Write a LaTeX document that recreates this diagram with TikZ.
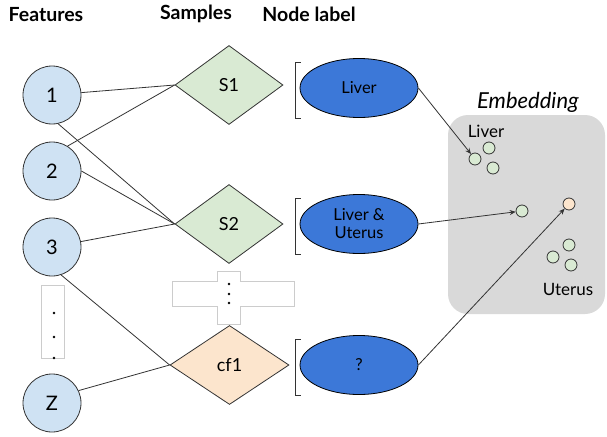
\documentclass[tikz,border=0pt]{standalone}
\usepackage{fontspec}
\setmainfont{Lato}
\usetikzlibrary{shapes.geometric,arrows.meta,calc}

\definecolor{featblue}{HTML}{CFE2F3}
\definecolor{samplegreen}{HTML}{D9EAD3}
\definecolor{cforange}{HTML}{FCE5CD}
\definecolor{labelblue}{HTML}{3C78D8}
\definecolor{embgray}{HTML}{D9D9D9}
\definecolor{edgegray}{HTML}{333333}
\definecolor{boxgray}{HTML}{CCCCCC}

\begin{document}
\begin{tikzpicture}[x=1pt,y=-1pt,line width=.8pt,
  feat/.style={circle,draw=edgegray,fill=featblue,minimum size=58pt,inner sep=0pt,font=\fontsize{20}{24}\selectfont},
  sample/.style={diamond,draw=edgegray,fill=samplegreen,minimum width=108pt,minimum height=79pt,inner sep=0pt,font=\fontsize{18}{21}\selectfont},
  nlabel/.style={ellipse,draw=black,fill=labelblue,minimum width=118pt,minimum height=59pt,inner sep=0pt,align=center,font=\fontsize{16.5}{18}\selectfont},
  emb/.style={circle,draw=edgegray,fill=samplegreen,minimum size=12pt,inner sep=0pt},
  head/.style={font=\fontsize{19.5}{23}\selectfont\bfseries},
  link/.style={draw=edgegray},
  arr/.style={-{Stealth[length=6pt,width=5pt]},draw=edgegray}]
\useasboundingbox (0,0) rectangle (607,436);

% column titles
\node[head] (tfeat) at (46,15) {Features};
\node[head] (tsamp) at (196,14) {Samples};
\node[head] (tlab) at (309,14) {Node label};

% embedding panel
\fill[embgray,rounded corners=20pt] (448,115) rectangle (605,314);
\node[font=\fontsize{22}{26}\selectfont\itshape] (temb) at (528,102) {Embedding};
\node[font=\fontsize{17}{20}\selectfont] (tliver) at (486,131) {Liver};
\node[font=\fontsize{17}{20}\selectfont] (tuterus) at (568,289) {Uterus};

% features
\node[feat] (f1) at (52,95) {1};
\node[feat] (f2) at (52,171) {2};
\node[feat] (f3) at (52,247) {3};
\node[feat] (fz) at (52,403) {Z};
\draw[boxgray,line width=.5pt] (41,285) rectangle (64,358);
\foreach \y in {313,337,358} \fill (54,\y) circle (1.4pt);

% samples
\node[sample] (s1) at (229,85) {S1};
\node[sample] (s2) at (229,224) {S2};
\node[sample,fill=cforange,minimum width=119pt] (cf) at (229.5,365) {cf1};
\draw[boxgray,line width=.6pt] (172,281) -- (217,281) -- (217,271) -- (240,271) -- (240,281)
  -- (294,281) -- (294,306) -- (240,306) -- (240,324) -- (217,324) -- (217,306) -- (172,306) -- cycle;
\foreach \y in {284,294,303} \fill (229,\y) circle (1.4pt);

% feature -> sample links
\draw[link] (f1) -- (s1.west);
\draw[link] (f2.58) -- (s1.west);
\draw[link] (f1.-78) -- (s2.west);
\draw[link] (f2.east) -- (s2.west);
\draw[link] (f3) -- (s2.west);
\draw[link] (f3.-72) -- (cf.west);
\draw[link] (fz.25) -- (cf.west);

% node labels
\node[nlabel] (l1) at (359,88) {Liver};
\node[nlabel] (l2) at (359,224) {Liver \&\\Uterus};
\node[nlabel] (l3) at (359,365) {?};
\foreach \n in {l1,l2,l3}
  \draw[edgegray] ($(\n.west |- \n.north)+(1,4)$) -- ++(-5,0) |- ($(\n.west |- \n.south)+(1,0)$);

% points in the embedding
\node[emb] (e1) at (475,159) {};
\node[emb] (e2) at (489,148) {};
\node[emb] (e3) at (493,168) {};
\node[emb] (e4) at (522,211) {};
\node[emb,fill=cforange] (e5) at (569,204) {};
\node[emb] (e6) at (553,257) {};
\node[emb] (e7) at (569,245) {};
\node[emb] (e8) at (571,265) {};

\draw[arr] (l1.east) -- (e1);
\draw[arr] (l2.east) -- (e4);
\draw[arr] (l3.east) -- (e5);
\end{tikzpicture}
\end{document}
